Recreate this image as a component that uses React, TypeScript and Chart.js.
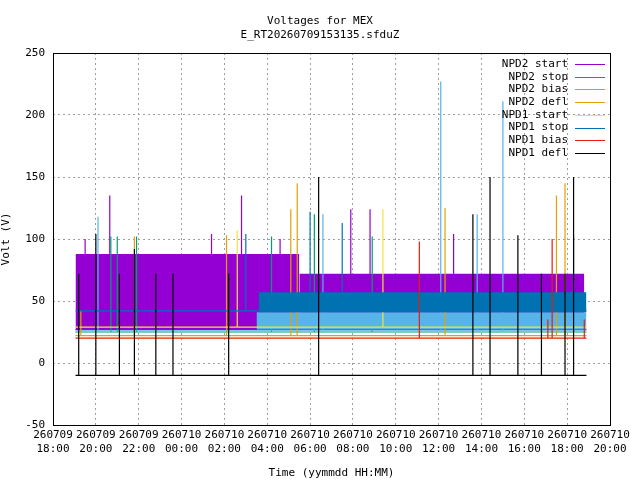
import { useEffect, useRef } from 'react'
import { Chart, registerables } from 'chart.js'

Chart.register(...registerables)

// hours since 260709 18:00
const xTicks = [0, 2, 4, 6, 8, 10, 12, 14, 16, 18, 20, 22, 24, 26]
const xDates = ['260709', '260709', '260709', '260710', '260710', '260710', '260710', '260710', '260710', '260710', '260710', '260710', '260710', '260710']
const xTimes = ['18:00', '20:00', '22:00', '00:00', '02:00', '04:00', '06:00', '08:00', '10:00', '12:00', '14:00', '16:00', '18:00', '20:00']

const seriesNames = ['NPD2 start', 'NPD2 stop', 'NPD2 bias', 'NPD2 defl', 'NPD1 start', 'NPD1 stop', 'NPD1 bias', 'NPD1 defl']
const seriesColors = ['#9400d3', '#009e73', '#56b4e9', '#e69f00', '#f0e442', '#0072b2', '#e51e10', '#000000']

// baseline of each series [start hour, end hour, value]
const baselines: [number, number, number][][] = [
  [[1.05, 24.9, 27]],
  [[1.05, 24.9, 25]],
  [[1.05, 24.9, 26]],
  [[1.05, 24.9, 22]],
  [[1.05, 24.9, 29]],
  [[1.05, 24.9, 42]],
  [[1.05, 24.9, 20]],
  [[1.05, 24.9, -10]],
]

// dense bands: [start hour, end hour, low, high]
const bands: [number, number, number, number][][] = [
  [[1.05, 11.5, 27, 88], [11.5, 24.8, 27, 72]],
  [],
  [[9.5, 24.9, 27, 41]],
  [],
  [],
  [[9.6, 24.9, 41, 57]],
  [],
  [],
]

// spikes: [hour, peak]
const spikes: [number, number][][] = [
  [[2.65, 135], [1.5, 100], [7.4, 104], [8.8, 135], [13.9, 124], [18.7, 104], [14.8, 124], [10.6, 100]],
  [[2.7, 102], [3.0, 102], [3.9, 102], [10.2, 102], [12.2, 120], [14.9, 102], [24.3, 103]],
  [[2.1, 118], [18.1, 227], [21.0, 211], [19.8, 120], [12.6, 120]],
  [[1.3, 42], [3.8, 102], [8.1, 103], [11.1, 124], [11.4, 145], [18.3, 125], [23.5, 135], [23.9, 145]],
  [[8.6, 107], [15.4, 124]],
  [[9.0, 104], [12.0, 122], [13.5, 113], [24.2, 58]],
  [[17.1, 98], [23.1, 35], [23.3, 100], [24.8, 35]],
  [[1.2, 72], [2.0, 104], [3.1, 72], [3.8, 92], [4.8, 72], [5.6, 72], [8.2, 72], [12.4, 150], [20.4, 150], [21.7, 103], [22.8, 72], [23.9, 72], [24.3, 150], [19.6, 120]],
]

const FONT = '"DejaVu Sans Mono"'

const legendPlugin = {
  id: 'gpLegend',
  afterDraw(chart: Chart) {
    const { ctx, chartArea } = chart
    ctx.save()
    ctx.font = `11px ${FONT}`
    ctx.textAlign = 'right'
    ctx.textBaseline = 'middle'
    seriesNames.forEach((name, i) => {
      const y = chartArea.top + 11 + i * 12.7
      ctx.fillStyle = '#000'
      ctx.fillText(name, chartArea.right - 42, y)
      ctx.strokeStyle = seriesColors[i]
      ctx.lineWidth = 1
      ctx.beginPath()
      ctx.moveTo(chartArea.right - 35, Math.round(y) + 0.5)
      ctx.lineTo(chartArea.right - 5, Math.round(y) + 0.5)
      ctx.stroke()
    })
    ctx.strokeStyle = '#000'
    ctx.strokeRect(chartArea.left + 0.5, chartArea.top + 0.5, chartArea.width, chartArea.height)
    ctx.restore()
  },
}

export default function App() {
  const canvasRef = useRef<HTMLCanvasElement>(null)
  const chartRef = useRef<Chart | null>(null)

  useEffect(() => {
    if (!canvasRef.current) return
    const groups: any[][] = []
    seriesNames.forEach((name, i) => {
      const color = seriesColors[i]
      const group: any[] = []
      const pts: any[] = []
      baselines[i].forEach(([a, b, v]) => pts.push({ x: a, y: v }, { x: b, y: v }, { x: b, y: null }))
      spikes[i].forEach(([h, p]) => pts.push({ x: h, y: baselines[i][0][2] }, { x: h, y: p }, { x: h, y: null }))
      group.push({
        label: name, data: pts, borderColor: color, borderWidth: 1.2, pointRadius: 0,
        fill: false, spanGaps: false, parsing: false,
      })
      bands[i].forEach(([a, b, lo, hi]) => {
        group.push({
          label: name + ' hi', data: [{ x: a, y: hi }, { x: b, y: hi }],
          borderWidth: 0, pointRadius: 0, backgroundColor: color, borderColor: color, fill: '+1',
        })
        group.push({
          label: name + ' lo', data: [{ x: a, y: lo }, { x: b, y: lo }],
          borderWidth: 0, pointRadius: 0, borderColor: color, fill: false,
        })
      })
      groups.push(group)
    })
    // Chart.js paints dataset 0 last, so put the later series first
    const datasets = groups.reverse().flat()
    chartRef.current = new Chart(canvasRef.current, {
      type: 'line',
      data: { datasets },
      plugins: [legendPlugin],
      options: {
        animation: false,
        responsive: false,
        layout: { padding: { top: 53, right: 30 } },
        plugins: {
          legend: { display: false },
          tooltip: { enabled: false },
        },
        scales: {
          x: {
            type: 'linear', min: 0, max: 26,
            afterFit: (s: any) => { s.height = 55 },
            afterBuildTicks: (s: any) => { s.ticks = xTicks.map((v) => ({ value: v })) },
            ticks: {
              color: '#000', font: { family: FONT, size: 11, lineHeight: 1.2 }, maxRotation: 0, autoSkip: false, padding: 4,
              callback: (v: any) => { const k = xTicks.indexOf(Number(v)); return [xDates[k], xTimes[k]] },
            },
            grid: { color: '#a0a0a0', drawTicks: false },
            border: { display: false, dash: [2, 3] },
            title: { display: true, text: 'Time (yymmdd HH:MM)', color: '#000', font: { family: FONT, size: 11 }, padding: { top: 6, bottom: 0 } },
          },
          y: {
            min: -50, max: 250,
            afterFit: (s: any) => { s.width = 53 },
            ticks: { stepSize: 50, color: '#000', font: { family: FONT, size: 11 }, padding: 8 },
            grid: { color: '#a0a0a0', drawTicks: false },
            border: { display: false, dash: [2, 3] },
            title: { display: true, text: 'Volt (V)', color: '#000', font: { family: FONT, size: 11 }, padding: 0 },
          },
        },
      },
    })
    return () => { chartRef.current?.destroy() }
  }, [])

  return (
    <div style={{ position: 'fixed', left: 0, top: 0, width: 640, height: 480, background: '#fff' }}>
      <div style={{ position: 'absolute', top: 14, width: 640, textAlign: 'center', font: `11px ${FONT}`, lineHeight: '14px' }}>
        Voltages for MEX<br />E_RT20260709153135.sfduZ
      </div>
      <canvas ref={canvasRef} width={640} height={480} />
    </div>
  )
}
